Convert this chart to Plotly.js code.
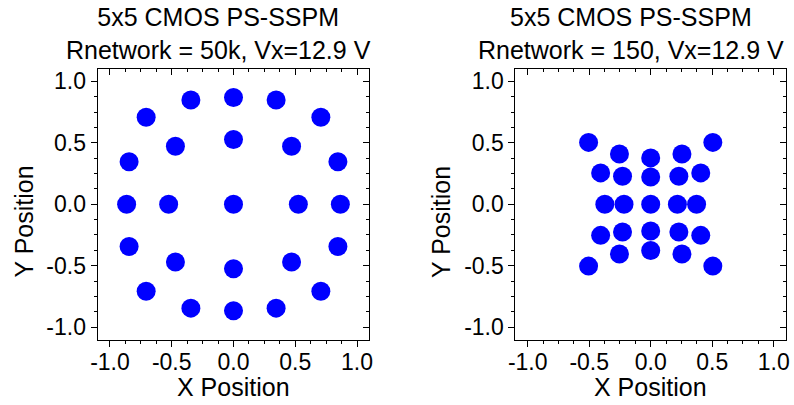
<!DOCTYPE html>
<html>
<head>
<meta charset="utf-8">
<script src="https://cdn.plot.ly/plotly-3.0.1.min.js"></script>
<style>html,body{margin:0;padding:0;background:#fff;}#chart{width:794px;height:405px;}</style>
</head>
<body>
<div id="chart"></div>
<script>
// Left panel: Rnetwork = 50k
const leftX = [-0.345, 0, 0.345, -0.707, 0.707, -0.47, 0, 0.47, -0.845, 0.845,
               -0.865, -0.525, 0, 0.525, 0.865, -0.845, 0.845, -0.47, 0, 0.47,
               -0.707, 0.707, -0.345, 0, 0.345];
const leftY = [0.848, 0.868, 0.848, 0.707, 0.707, 0.472, 0.527, 0.472, 0.345, 0.345,
               0, 0, 0, 0, 0, -0.343, -0.343, -0.47, -0.525, -0.47,
               -0.707, -0.707, -0.845, -0.866, -0.845];
// Right panel: Rnetwork = 150
const rightX = [-0.505, -0.254, 0, 0.254, 0.505, -0.407, -0.229, 0, 0.229, 0.407,
                -0.373, -0.217, 0, 0.217, 0.373, -0.407, -0.229, 0, 0.229, 0.407,
                -0.505, -0.254, 0, 0.254, 0.505];
const rightY = [0.503, 0.408, 0.377, 0.408, 0.503, 0.255, 0.228, 0.221, 0.228, 0.255,
                0, 0, 0, 0, 0, -0.253, -0.226, -0.218, -0.226, -0.253,
                -0.503, -0.404, -0.376, -0.404, -0.503];

const titleLine1 = '5x5 CMOS PS-SSPM';
const leftTitle2 = 'Rnetwork = 50k, Vx=12.9 V';
const rightTitle2 = 'Rnetwork = 150, Vx=12.9 V';
const xLabel = 'X Position';
const yLabel = 'Y Position';
const tickVals = [-1.0, -0.5, 0.0, 0.5, 1.0];
const tickText = ['-1.0', '-0.5', '0.0', '0.5', '1.0'];

const FONT = 'Arial, "Liberation Sans", sans-serif';
const W = 794, H = 405;
const px = v => v / W;
const py = v => 1 - v / H;

const marker = {color: '#0000FF', size: 19, symbol: 'circle', line: {width: 0}};
const traces = [
  {x: leftX, y: leftY, type: 'scatter', mode: 'markers', marker: marker, xaxis: 'x', yaxis: 'y', hoverinfo: 'x+y'},
  {x: rightX, y: rightY, type: 'scatter', mode: 'markers', marker: marker, xaxis: 'x2', yaxis: 'y2', hoverinfo: 'x+y'},
  {x: [null], y: [null], type: 'scatter', mode: 'markers', xaxis: 'x3', yaxis: 'y3', showlegend: false, hoverinfo: 'skip'},
  {x: [null], y: [null], type: 'scatter', mode: 'markers', xaxis: 'x4', yaxis: 'y4', showlegend: false, hoverinfo: 'skip'}
];

const RANGE = [-1.1, 1.1];
const yDom = [py(339.5), py(69)];
const leftDom = [px(97.6), px(369.4)];
const rightDom = [px(515.4), px(786)];

function mainAxis(domain, anchor, isX) {
  return {
    domain: domain, anchor: anchor, range: RANGE, autorange: false,
    showgrid: false, zeroline: false, showline: true, linecolor: '#000', linewidth: 1, mirror: true,
    ticks: 'outside', ticklen: 6, tickwidth: 1, tickcolor: '#000',
    tickvals: tickVals, ticktext: tickText,
    ticklabelstandoff: isX ? -4 : 0,
    tickfont: {family: FONT, size: 23, color: '#000'},
    minor: {dtick: 0.125, tick0: 0, ticks: 'outside', ticklen: 3, tickwidth: 1, tickcolor: '#000', showgrid: false}
  };
}
function overlayAxis(overlay, anchor, side) {
  return {
    overlaying: overlay, anchor: anchor, side: side, range: RANGE, autorange: false,
    showgrid: false, zeroline: false, showline: false, showticklabels: false,
    ticks: 'inside', ticklen: 6, tickwidth: 1, tickcolor: '#000',
    tickvals: tickVals,
    minor: {dtick: 0.125, tick0: 0, ticks: 'inside', ticklen: 3, tickwidth: 1, tickcolor: '#000', showgrid: false}
  };
}

function ann(text, x, y, extra) {
  return Object.assign({text: text, x: x, y: y, xref: 'paper', yref: 'paper',
    xanchor: 'center', yanchor: 'middle', showarrow: false,
    font: {family: FONT, size: 25, color: '#000'}, borderpad: 0}, extra || {});
}

const layout = {
  width: W, height: H,
  margin: {l: 0, r: 0, t: 0, b: 0},
  paper_bgcolor: '#fff', plot_bgcolor: '#fff',
  showlegend: false,
  xaxis: mainAxis(leftDom, 'y', true),
  yaxis: mainAxis(yDom, 'x', false),
  xaxis2: mainAxis(rightDom, 'y2', true),
  yaxis2: mainAxis(yDom, 'x2', false),
  xaxis3: overlayAxis('x', 'y', 'top'),
  yaxis3: overlayAxis('y', 'x', 'right'),
  xaxis4: overlayAxis('x2', 'y2', 'top'),
  yaxis4: overlayAxis('y2', 'x2', 'right'),
  annotations: [
    ann(titleLine1 + '<br>' + leftTitle2, px(218.5), py(33)),
    ann(titleLine1 + '<br>' + rightTitle2, px(631), py(33)),
    ann(xLabel, px(233.5), py(387)),
    ann(xLabel, px(650), py(387)),
    ann(yLabel, px(23.5), py(222), {textangle: -90}),
    ann(yLabel, px(441), py(222), {textangle: -90})
  ]
};

Plotly.newPlot('chart', traces, layout, {staticPlot: true, displayModeBar: false});
</script>
</body>
</html>
